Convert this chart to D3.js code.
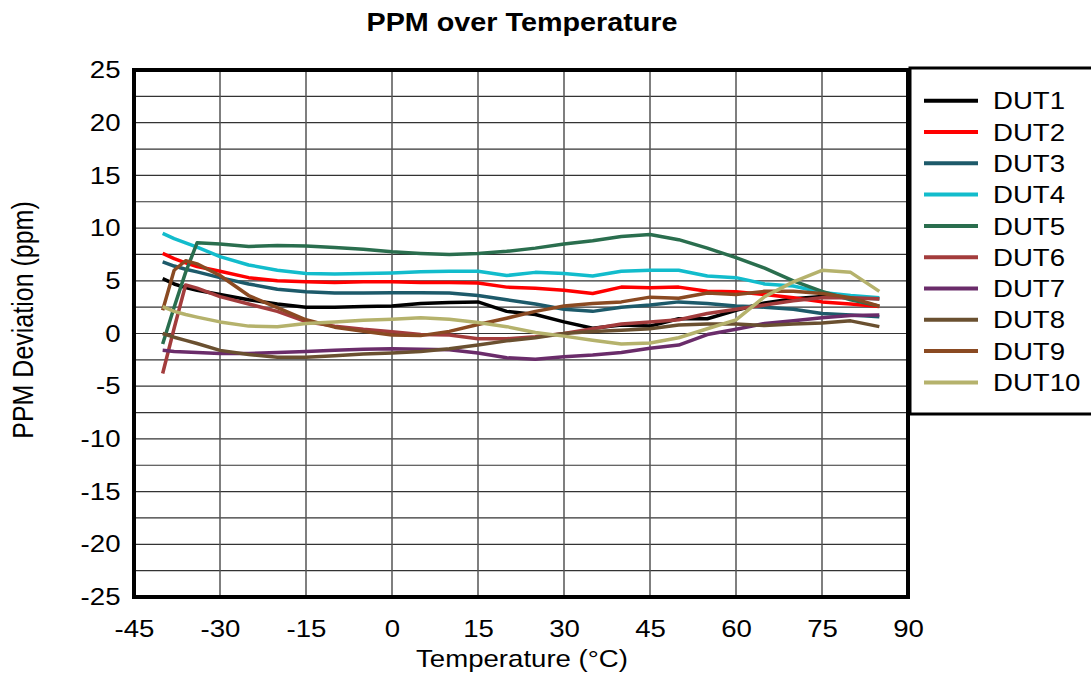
<!DOCTYPE html>
<html>
<head>
<meta charset="utf-8">
<script src="https://cdn.jsdelivr.net/npm/d3@7"></script>
<style>
  body { margin: 0; background: #fff; }
  text { font-family: Arial, "Liberation Sans", sans-serif; }
</style>
</head>
<body>
<script>
const width = 1091;
const height = 677;
const margin = { left: 134, top: 70, right: 183, bottom: 80 };
const stretch = 1.15; // reference text is slightly wide

// data
const temps = [-40, -38, -36, -34, -30, -25, -20, -15, -10, -5, 0, 5, 10, 15, 20, 25, 30, 35, 40, 45, 50, 55, 60, 65, 70, 75, 80, 85];
const dut1 = [5.2, 4.7, 4.35, 4.1, 3.7, 3.2, 2.8, 2.5, 2.5, 2.55, 2.6, 2.85, 2.95, 3.0, 2.1, 1.8, 1.1, 0.5, 0.8, 0.7, 1.4, 1.4, 2.2, 2.9, 3.3, 3.5, 3.4, 3.3];
const dut2 = [7.6, 7.1, 6.7, 6.35, 5.9, 5.3, 5.0, 4.9, 4.85, 4.9, 4.9, 4.85, 4.85, 4.8, 4.4, 4.3, 4.1, 3.8, 4.4, 4.35, 4.4, 4.0, 3.95, 3.7, 3.4, 3.0, 2.8, 2.55];
const dut3 = [6.8, 6.4, 6.1, 5.85, 5.3, 4.7, 4.2, 3.95, 3.85, 3.85, 3.87, 3.87, 3.85, 3.6, 3.2, 2.8, 2.3, 2.1, 2.5, 2.7, 3.0, 2.85, 2.6, 2.5, 2.3, 1.9, 1.75, 1.6];
const dut4 = [9.5, 9.0, 8.6, 8.2, 7.3, 6.5, 6.0, 5.7, 5.65, 5.7, 5.75, 5.85, 5.9, 5.9, 5.5, 5.8, 5.7, 5.45, 5.9, 6.0, 6.0, 5.45, 5.3, 4.7, 4.5, 3.9, 3.6, 3.4];
const dut5 = [-1.0, 2.5, 5.8, 8.6, 8.5, 8.25, 8.35, 8.3, 8.15, 8.0, 7.75, 7.6, 7.5, 7.6, 7.8, 8.1, 8.5, 8.8, 9.2, 9.4, 8.9, 8.1, 7.2, 6.2, 5.0, 4.0, 3.2, 2.6];
const dut6 = [-3.8, 0.5, 4.6, 4.3, 3.5, 2.8, 2.1, 1.12, 0.7, 0.4, 0.17, -0.1, -0.15, -0.5, -0.5, -0.3, 0.0, 0.45, 0.9, 1.1, 1.3, 1.9, 2.3, 2.7, 3.1, 3.4, 3.4, 3.3];
const dut7 = [-1.6, -1.7, -1.75, -1.8, -1.9, -1.9, -1.8, -1.7, -1.6, -1.5, -1.45, -1.5, -1.55, -1.85, -2.3, -2.45, -2.2, -2.05, -1.8, -1.4, -1.1, -0.1, 0.4, 0.95, 1.2, 1.5, 1.7, 1.75];
const dut8 = [0.0, -0.35, -0.65, -0.95, -1.6, -2.0, -2.25, -2.25, -2.1, -1.95, -1.85, -1.7, -1.45, -1.1, -0.7, -0.4, 0.0, 0.2, 0.3, 0.45, 0.8, 0.9, 0.9, 0.75, 0.9, 1.0, 1.2, 0.65];
const dut9 = [2.2, 6.0, 6.9, 6.6, 5.5, 3.6, 2.45, 1.3, 0.6, 0.2, -0.15, -0.2, 0.2, 0.85, 1.45, 2.1, 2.6, 2.85, 3.0, 3.45, 3.35, 3.85, 3.7, 4.0, 4.0, 3.8, 3.4, 2.6];
const dut10 = [2.55, 2.1, 1.8, 1.55, 1.1, 0.7, 0.65, 0.95, 1.1, 1.25, 1.35, 1.5, 1.35, 1.05, 0.65, 0.1, -0.25, -0.65, -1.0, -0.9, -0.4, 0.45, 1.3, 3.5, 4.9, 6.0, 5.8, 4.0];

const names = ["DUT1", "DUT2", "DUT3", "DUT4", "DUT5", "DUT6", "DUT7", "DUT8", "DUT9", "DUT10"];
const values = [dut1, dut2, dut3, dut4, dut5, dut6, dut7, dut8, dut9, dut10];
const colors = ["#000000", "#ff0000", "#1d5a6a", "#12bccc", "#2a6e4e", "#a33c3c", "#6a2c6a", "#6a5030", "#8a4a22", "#b5b26c"];

const xTicks = [-45, -30, -15, 0, 15, 30, 45, 60, 75, 90];
const yTicks = [-25, -20, -15, -10, -5, 0, 5, 10, 15, 20, 25];

const x = d3.scaleLinear().domain([-45, 90]).range([margin.left, width - margin.right]);
const y = d3.scaleLinear().domain([-25, 25]).range([height - margin.bottom, margin.top]);

const svg = d3.select("body").append("svg")
    .attr("width", width)
    .attr("height", height);

// places a text at (tx, ty), widened horizontally like the reference
function wideText(tx, ty, str, size) {
    return svg.append("text")
        .attr("transform", `translate(${tx}, ${ty}) scale(${stretch}, 1)`)
        .attr("font-size", size)
        .text(str);
}

// grid
svg.append("g")
    .selectAll("line")
    .data(d3.range(-25, 25.01, 2.5))
    .join("line")
    .attr("x1", x(-45)).attr("x2", x(90))
    .attr("y1", d => y(d)).attr("y2", d => y(d))
    .attr("stroke", "#333")
    .attr("stroke-width", 1.2);

svg.append("g")
    .selectAll("line")
    .data(xTicks)
    .join("line")
    .attr("x1", d => x(d)).attr("x2", d => x(d))
    .attr("y1", y(25)).attr("y2", y(-25))
    .attr("stroke", "#555")
    .attr("stroke-width", 1.5);

// axes (labels only)
const xAxis = svg.append("g")
    .attr("transform", `translate(0, ${y(-25)})`)
    .call(d3.axisBottom(x).tickValues(xTicks).tickFormat(d => String(d)).tickSize(0).tickPadding(23));
xAxis.select(".domain").remove();
xAxis.selectAll("text")
    .attr("font-size", 24)
    .attr("fill", "#000")
    .attr("transform", `scale(${stretch}, 1)`)
    .style("font-family", "Arial, 'Liberation Sans', sans-serif");

const yAxis = svg.append("g")
    .attr("transform", `translate(${x(-45)}, 0)`)
    .call(d3.axisLeft(y).tickValues(yTicks).tickFormat(d => String(d)).tickSize(0));
yAxis.select(".domain").remove();
yAxis.selectAll("text")
    .attr("font-size", 24)
    .attr("fill", "#000")
    .attr("x", -13.5 / stretch)
    .attr("transform", `scale(${stretch}, 1)`)
    .style("font-family", "Arial, 'Liberation Sans', sans-serif");

// series
const line = d3.line()
    .x((d, i) => x(temps[i]))
    .y(d => y(d));

svg.append("g")
    .selectAll("path")
    .data(values)
    .join("path")
    .attr("d", d => line(d))
    .attr("fill", "none")
    .attr("stroke", (d, i) => colors[i])
    .attr("stroke-width", 3.5)
    .attr("stroke-linejoin", "round");

// plot frame
svg.append("rect")
    .attr("x", x(-45))
    .attr("y", y(25))
    .attr("width", x(90) - x(-45))
    .attr("height", y(-25) - y(25))
    .attr("fill", "none")
    .attr("stroke", "#000")
    .attr("stroke-width", 4);

// legend
svg.append("rect")
    .attr("x", 910)
    .attr("y", 68)
    .attr("width", 200)
    .attr("height", 346)
    .attr("fill", "#fff")
    .attr("stroke", "#000")
    .attr("stroke-width", 3);

names.forEach((name, i) => {
    const ly = 100.7 + i * 31.3;
    svg.append("line")
        .attr("x1", 924).attr("x2", 978)
        .attr("y1", ly).attr("y2", ly)
        .attr("stroke", colors[i])
        .attr("stroke-width", 4);
    wideText(993, ly, name, 24).attr("dy", "0.36em");
});

// titles
wideText(522, 31, "PPM over Temperature", 25)
    .attr("text-anchor", "middle")
    .attr("font-weight", "bold");

wideText(522, 667, "Temperature (°C)", 24)
    .attr("text-anchor", "middle");

svg.append("text")
    .attr("transform", `translate(33, 320) scale(${stretch}, 1) rotate(-90)`)
    .attr("text-anchor", "middle")
    .attr("font-size", 25)
    .text("PPM Deviation (ppm)");
</script>
</body>
</html>
